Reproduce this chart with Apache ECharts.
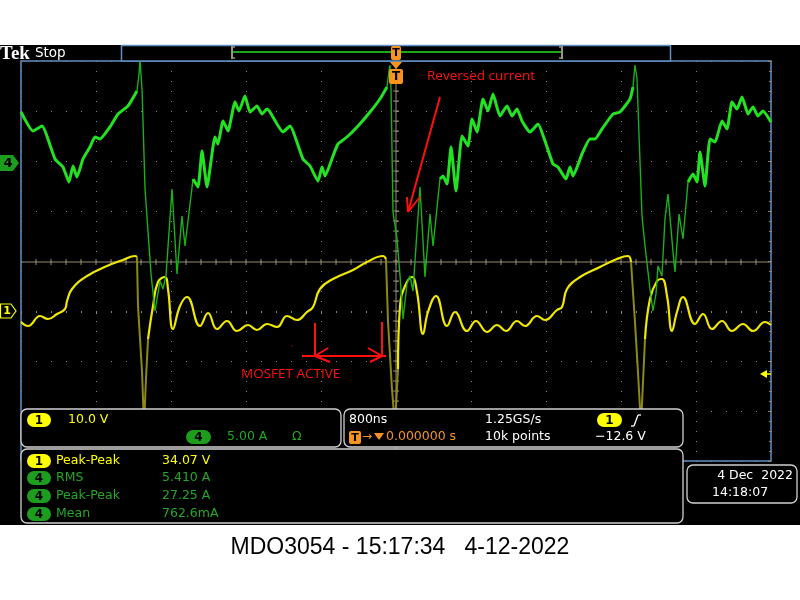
<!DOCTYPE html>
<html><head><meta charset="utf-8">
<script src="https://cdn.jsdelivr.net/npm/echarts@6/dist/echarts.min.js"></script>
<style>
html,body{margin:0;padding:0;background:#fff}
#c{width:800px;height:600px;background:linear-gradient(to bottom,#fff 0,#fff 45px,#000 45px,#000 525px,#fff 525px,#fff 600px)}
</style>
</head><body><div id="c"></div>
<script>
// ---- Channel 1 (voltage, 10 V/div) ----
const ch1Time = [-4000,-3925,-3797,-3712,-3616,-3531,-3509,-3456,-3296,-3083,
  -2912,-2784,-2763,-2752,-2709,-2688,-2667,-2645,-2592,-2539,
  -2464,-2432,-2379,-2304,-2229,-2091,-2005,-1909,-1803,
  -1696,-1579,-1483,-1376,-1269,-1163,-1056,-949,-885,-811,
  -672,-459,-309,-139,-107,-85,-43,-11,21,43,
  96,171,224,288,341,427,544,629,757,
  853,971,1077,1173,1291,1376,1504,1589,1717,1771,
  1824,1963,2176,2357,2475,2507,2549,2581,2613,2656,
  2709,2784,2837,2891,2944,2997,3061,3189,3275,
  3371,3477,3584,3701,3808,3936,4000];
const ch1Volts = [-2.2,-3.0,-1.0,-1.6,-0.6,0.4,2.0,4.4,7.0,9.0,
  10.2,11.0,10.8,1.0,-12.2,-23.0,-13.6,-5.6,1.0,5.8,
  6.8,4.4,-3.6,1.0,2.8,-3.0,-0.4,-3.6,-2.0,
  -4.0,-2.8,-3.8,-2.6,-3.2,-1.0,-1.8,-0.2,0.8,4.4,
  6.4,8.2,9.8,11.0,10.4,-2.2,-15.6,-23.0,-11.6,1.0,
  5.0,6.8,3.8,-4.6,-0.2,3.0,-3.0,-0.2,-4.0,
  -2.0,-4.2,-2.8,-4.0,-2.0,-3.0,-1.0,-1.8,0.2,0.8,
  4.4,6.8,8.8,10.4,11.0,9.8,-2.2,-12.2,-23.0,-5.6,
  2.4,6.0,6.4,3.0,-4.0,-0.2,2.8,-2.6,-0.6,
  -3.6,-2.0,-4.0,-2.6,-4.0,-2.2,-2.8];
const ch1FastWindows = [[-2763,-2645],[-107,21],[2507,2656]];

// ---- Channel 4 (current, 5 A/div) ----
const ch4Time = [-4000,-3872,-3776,-3637,-3552,-3488,-3445,-3403,-3339,-3264,
  -3211,-3157,-3051,-2965,-2859,-2763,-2741,-2731,-2709,-2677,
  -2645,-2613,-2571,-2517,-2485,-2453,-2389,-2336,-2283,-2251,
  -2165,-2112,-2069,-2016,-1931,-1899,-1845,-1792,-1717,-1675,
  -1611,-1557,-1483,-1429,-1376,-1344,-1205,-1131,-992,-917,
  -832,-789,-757,-672,-619,-523,-405,-277,-171,-96,
  -75,-64,-53,-32,11,43,75,117,149,181,
  256,309,363,395,469,501,544,587,640,704,
  768,811,864,928,981,1035,1109,1184,1237,1291,
  1344,1429,1515,1589,1675,1728,1813,1856,1888,1984,
  2069,2123,2197,2315,2389,2496,2528,2549,2571,2581,
  2624,2656,2709,2741,2773,2795,2837,2869,2901,2955,
  2976,3019,3061,3115,3168,3211,3243,3296,3349,3403,
  3477,3531,3584,3637,3691,3755,3808,3861,3915,4000];
const ch4Amps = [4.9,3.0,3.5,0.2,-0.6,-2.1,-0.5,-1.6,0.2,1.4,
  2.4,2.2,3.4,4.7,5.5,7.0,8.7,10.1,7.2,-2.8,
  -7.1,-11.3,-15.0,-12.0,-12.8,-11.4,-2.8,-11.3,-5.5,-8.5,
  -1.8,-2.6,1.0,-2.6,2.4,1.7,4.0,3.0,5.9,5.0,
  6.5,4.9,5.5,4.7,5.2,4.9,2.9,3.5,0.2,-0.5,
  -2.0,-0.6,-1.5,0.5,1.7,2.4,3.5,4.9,6.2,7.4,
  9.0,9.6,7.2,-5.1,-7.8,-11.5,-15.8,-12.3,-11.5,-13.0,
  -2.6,-11.6,-5.3,-8.5,-1.8,-1.5,-2.3,1.4,-3.0,2.5,
  1.5,4.2,2.9,6.2,5.0,6.7,4.5,5.5,4.5,5.2,
  4.0,2.9,3.7,2.0,-0.3,-0.6,-1.8,-0.6,-1.5,0.7,
  2.2,2.2,3.2,4.7,4.9,6.2,7.4,9.6,8.2,5.5,
  -5.5,-8.5,-12.8,-15.0,-13.3,-10.5,-11.5,-5.8,-3.3,-9.1,
  -11.1,-5.3,-7.8,-2.1,-1.3,-2.1,0.9,-2.5,2.2,1.9,
  4.0,3.2,5.9,5.2,6.4,4.7,5.4,4.5,5.0,3.9];
const ch4FastWindows = [[-2763,-2165],[-96,469],[2528,3115]];

// ---- Readouts ----
const measChannels = ['1','4','4','4'];
const measLabels = ['Peak-Peak','RMS','Peak-Peak','Mean'];
const measValues = ['34.07 V','5.410 A','27.25 A','762.6mA'];
const caption = 'MDO3054 - 15:17:34   4-12-2022';

function segments(T, Yv, wins){
  const inW = t => wins.some(w => t >= w[0] && t <= w[1]);
  const segs = []; let cur = null;
  for (let i = 1; i < T.length; i++){
    const f = inW(T[i-1]) && inW(T[i]);
    if (!cur || cur.fast !== f){ cur = {fast:f, data:[[T[i-1], Yv[i-1]]]}; segs.push(cur); }
    cur.data.push([T[i], Yv[i]]);
  }
  return segs;
}

const YEL='#ffff00', GRN='#22a822', GPILL='#1d9d1d', WHT='#ffffff', ORG='#f7931e', RED='#ff1010';
const DOT='#8f846c', XH='#978b72', BLUE='#6090c4';
const FONT='"DejaVu Sans"';

const series = [];
segments(ch1Time, ch1Volts, ch1FastWindows).forEach(s => series.push({
  type:'line', data:s.data, yAxisIndex:0, showSymbol:false, symbol:'none', z:3,
  smooth: s.fast ? false : 0.45,
  lineStyle:{color: s.fast ? '#8c8a14' : '#f0e800', width: s.fast ? 2 : 2.2}
}));
segments(ch4Time, ch4Amps, ch4FastWindows).forEach(s => series.push({
  type:'line', data:s.data, yAxisIndex:1, showSymbol:false, symbol:'none', z:4,
  smooth: s.fast ? false : 0.15,
  lineStyle:{color: s.fast ? '#19b019' : '#22e222', width: s.fast ? 1.4 : 3}
}));

const E = [];
function rect(x,y,w,h,r,fill,stroke,lw,z){E.push({type:'rect',z:z||100,shape:{x,y,width:w,height:h,r:r||0},style:{fill:fill||'none',stroke:stroke||null,lineWidth:lw||1}});}
function line(x1,y1,x2,y2,c,lw,z){E.push({type:'line',z:z||100,shape:{x1,y1,x2,y2},style:{stroke:c,lineWidth:lw||1}});}
function poly(pts,fill,stroke,z){E.push({type:'polygon',z:z||100,shape:{points:pts},style:{fill:fill||'none',stroke:stroke||null,lineWidth:1.2}});}
function text(x,y,s,c,font,align,z){E.push({type:'text',z:z||110,x,y,style:{text:s,fill:c,font:font||('12.5px '+FONT),align:align||'left',textAlign:align||'left',verticalAlign:'middle',textVerticalAlign:'middle'}});}
function pill(x,y,w,h,fill,s){rect(x,y,w,h,7,fill,null,1,105);text(x+w/2,y+h/2+0.5,s,'#000','bold 12px '+FONT,'center',111);}

// crosshair
line(21,262,771,262,XH,1,1); line(396,61,396,461,XH,1,1);
for(let x=21+15;x<771;x+=15) line(x,259,x,265,XH,1,1);
for(let y=61+10;y<461;y+=10) line(393,y,399,y,XH,1,1);

// top bar
text(0,54.5,'Tek',WHT,'bold 19px "Liberation Serif"','left');
text(35,53,'Stop',WHT,'13.5px '+FONT,'left');
rect(121.5,45.5,549,15.5,0,'#000',BLUE,1.5,90);
line(233,52,561,52,'#1aa81a',2,95);
line(232,46,232,59,'#9a9480',2,95); line(232,47,235,47,'#9a9480',1.5,95); line(232,58,235,58,'#9a9480',1.5,95);
line(562,46,562,59,'#9a9480',2,95); line(559,47,562,47,'#9a9480',1.5,95); line(559,58,562,58,'#9a9480',1.5,95);
rect(391,46,10,14,2,ORG,null,1,96); text(396,53.5,'T','#000','bold 11px '+FONT,'center',97);
poly([[390,62],[402,62],[396,69]],ORG,null,96);
rect(389,69,14,15,2,ORG,null,1,96); text(396,77,'T','#000','bold 12px '+FONT,'center',97);

// channel markers
poly([[0,155],[13,155],[19,163],[13,171],[0,171]],GPILL,null,100);
text(8,163.5,'4','#000','bold 13px '+FONT,'center');
poly([[0.5,304],[11,304],[16,311],[11,318],[0.5,318]],'#000',YEL,100);
text(7,311.5,'1',YEL,'bold 11px '+FONT,'center');
poly([[760,374],[767,370],[767,378]],YEL,null,100); line(767,374,771,374,YEL,1.5,100);

// annotations
text(427,76,'Reversed current',RED,'13.5px "Open Sans"','left',120);
line(440,97,408,212,RED,2,120); line(407,197,408,212,RED,2,120); line(420,197,408,212,RED,2,120);
text(241,374,'MOSFET ACTIVE',RED,'13.5px "Open Sans"','left',120);
line(315,323,315,357,RED,2,120); line(382,322,382,357,RED,2,120); line(302,356,386,356,RED,2,120);
line(315,356,328,348,RED,2,120); line(315,356,330,362,RED,2,120);
line(382,356,368,348,RED,2,120); line(382,356,370,362,RED,2,120);
rect(291.5,345.5,1,1,0,RED,null,1,120);

// panels
const PS='#d0d0d0';
rect(21,409,320,38,6,'#000',PS,1.3); rect(344,409,339,38,6,'#000',PS,1.3);
rect(21,449,662,74,6,'#000',PS,1.3); rect(687,465,110,38,6,'#000',PS,1.3);
pill(27,413,24,14,YEL,'1'); text(68,420,'10.0 V',YEL);
pill(186,430,25,14,GPILL,'4'); text(227,437,'5.00 A',GRN); text(292,437,'Ω',GRN);
text(349,420,'800ns',WHT);
rect(349,431,12,13,2,ORG,null,1,105); text(355,438,'T','#000','bold 11px '+FONT,'center',111);
text(362,437,'→',ORG,'12px '+FONT,'left');
poly([[374,433],[384,433],[379,440]],ORG,null,105);
text(386,437,'0.000000 s',ORG);
text(485,420,'1.25GS/s',WHT); text(485,437,'10k points',WHT);
pill(597,413,25,14,YEL,'1');
line(631,426,634,426,WHT,1.3,110); line(634,426,638,415,WHT,1.3,110); line(638,415,641,415,WHT,1.3,110);
text(595,437,'−12.6 V',WHT);
const rowsY=[461,478,496,514];
measChannels.forEach((ch,i)=>{
  const c = ch==='1'?YEL:GRN;
  pill(27,rowsY[i]-7,24,14,ch==='1'?YEL:GPILL,ch);
  text(56,rowsY[i],measLabels[i],c);
  text(162,rowsY[i],measValues[i],c);
});
text(793,476,'4 Dec  2022',WHT,'12.5px '+FONT,'right');
text(712,493,'14:18:07',WHT);
text(400,548,caption,'#000','23px "Liberation Sans"','center');

const chart = echarts.init(document.getElementById('c'), null, {renderer:'canvas'});
chart.setOption({
  animation:false,
  backgroundColor:'transparent',
  grid:{left:21,top:61,width:750,height:400,show:true,borderColor:BLUE,borderWidth:1.5,backgroundColor:'#000'},
  xAxis:{type:'value',min:-4000,max:4000,interval:800,position:'top',
    axisLine:{show:false},axisLabel:{show:false},
    axisTick:{show:true,inside:true,length:3,lineStyle:{color:DOT}},
    minorTick:{show:true,splitNumber:5,length:2,lineStyle:{color:DOT}},
    splitLine:{show:true,lineStyle:{color:DOT,width:1,type:[1,9]}}},
  yAxis:[
    {type:'value',min:-30,max:50,interval:10,position:'left',
     axisLine:{show:false},axisLabel:{show:false},
     axisTick:{show:true,inside:true,length:3,lineStyle:{color:DOT}},
     minorTick:{show:true,splitNumber:5,length:2,lineStyle:{color:DOT}},
     splitLine:{show:true,lineStyle:{color:DOT,width:1,type:[1,14]}}},
    {type:'value',min:-30,max:10,interval:5,position:'right',
     axisLine:{show:false},axisLabel:{show:false},
     axisTick:{show:true,inside:true,length:3,lineStyle:{color:DOT}},
     minorTick:{show:true,splitNumber:5,length:2,lineStyle:{color:DOT}},
     splitLine:{show:false}}
  ],
  series:series,
  graphic:{elements:E}
});
</script>
</body></html>
